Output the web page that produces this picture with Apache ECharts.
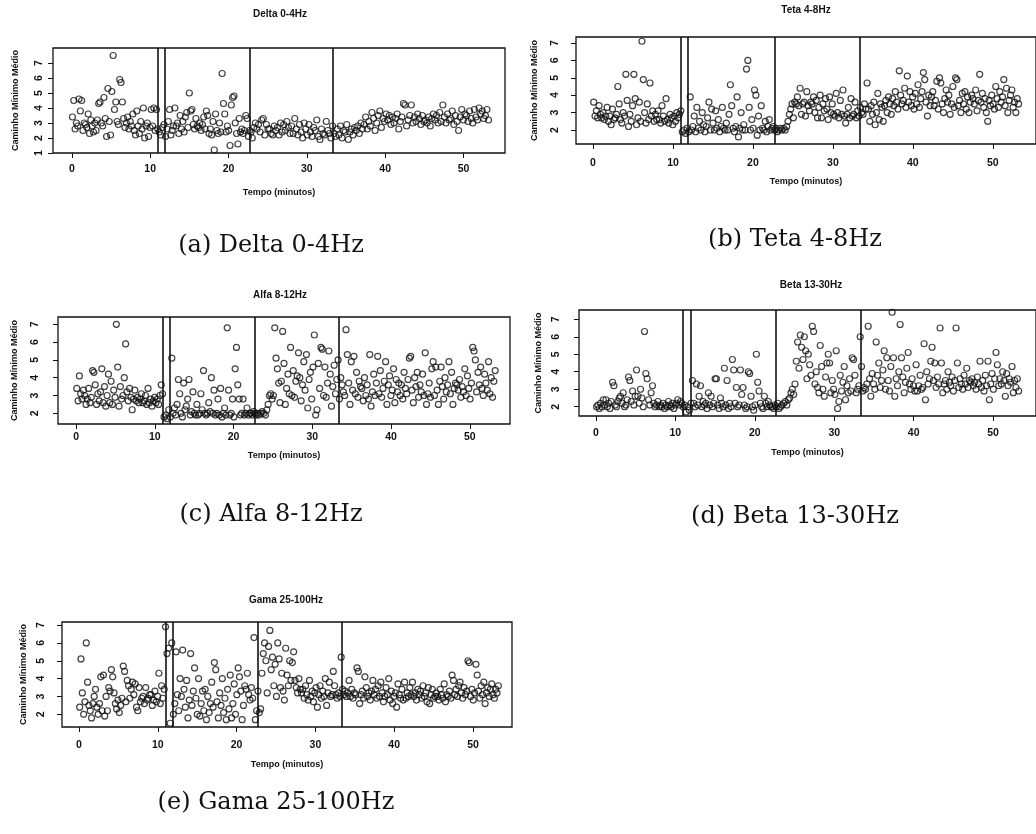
<!DOCTYPE html>
<html><head><meta charset="utf-8">
<script src="https://cdn.jsdelivr.net/npm/echarts@6/dist/echarts.min.js"></script>
<style>html,body{margin:0;padding:0;background:#fff}#c{width:1036px;height:834px}</style>
</head><body><div id="c"></div>
<script>
// ---------- data ----------
const panelTitles = ['Delta 0-4Hz', 'Teta 4-8Hz', 'Alfa 8-12Hz', 'Beta 13-30Hz', 'Gama 25-100Hz'];
const captions = ['(a) Delta 0-4Hz', '(b) Teta 4-8Hz', '(c) Alfa 8-12Hz', '(d) Beta 13-30Hz', '(e) Gama 25-100Hz'];
const xAxisName = 'Tempo (minutos)';
const yAxisName = 'Caminho Mínimo Médio';
const xTicks = [0, 10, 20, 30, 40, 50];
const yTicksDelta = [1, 2, 3, 4, 5, 6, 7];
const yTicksOther = [2, 3, 4, 5, 6, 7];
const boundaries = [10.95, 11.9, 22.7, 33.3];
const totalMinutes = 53.3;

// one row per minute (minute 0 .. 52), values in reading order
const delta = [
[3.4,4.5,2.6,3.0,2.8,4.6],[3.8,4.5,2.5,3.0,2.9,2.7],[3.6,2.3,3.2,2.8,2.4,3.0],[2.5,3.2,4.3,4.4,3.0,2.8],
[4.7,3.3,2.1,5.3,3.1,2.2],[5.1,7.5,3.9,4.4,3.1,2.9],[5.9,5.7,4.4,3.3,2.7,3.0],[3.4,2.6,3.1,2.8,3.6,2.5],
[2.2,3.8,2.8,2.3,3.1,2.6],[4.0,2.0,2.8,3.0,2.1,2.7],[3.9,2.8,4.0,2.5,3.9,2.6],[2.4,2.2,2.7,2.9,2.1],
[2.6,3.1,3.9,2.2,2.5,2.8],[4.0,2.8,3.0,2.3,3.5,2.6],[3.1,2.4,3.4,3.7,2.7,5.0],[3.8,3.9,2.9,2.6,3.3,2.8],
[2.7,3.0,2.5,2.9,3.4,2.6],[3.8,3.5,2.3,2.6,2.2,3.1],[1.2,3.6,2.5,2.3,3.0,2.4],[6.3,4.3,3.6,2.4,2.8,2.5],
[1.5,4.2,4.7,4.8,3.0,2.3],[1.6,3.3,2.4,2.6,2.3,2.5],[3.5,3.3,2.1,2.5,2.4,2.0],[2.7,3.0,2.6,2.9,2.4],
[3.2,3.3,2.2,2.9,2.6],[2.6,2.3,2.2,2.8,2.5],[2.7,2.2,3.0,2.4,2.9],[2.5,3.1,2.7,2.3,2.8],
[2.3,3.3,2.6,2.2,2.9],[2.4,2.0,3.0,2.6,2.2],[2.9,2.4,2.1,2.7,2.5],[3.2,2.1,1.9,2.6,2.3],
[2.2,3.1,2.5,2.3,2.0],[2.8,2.3,2.1,2.6,2.2],[2.8,2.0,2.5,2.4,2.9],[1.9,2.4,2.6,2.2,2.7],
[2.5,2.8,2.3,3.0,2.6],[2.9,3.4,2.6,3.1,2.8],[3.7,3.3,2.5,3.0,3.5],[3.8,2.7,3.3,3.1,3.6],
[3.2,3.5,2.9,3.4,3.0],[3.3,3.6,2.6,3.1,3.4],[4.3,4.2,2.8,3.2,3.5],[4.2,3.0,3.4,3.1,3.6],
[3.3,2.9,3.5,3.1,3.2],[3.0,3.4,2.8,3.3,3.6],[3.2,3.5,3.0,3.7,3.1],[4.2,3.4,3.0,3.6,3.2],
[3.3,3.8,2.9,3.5,3.1],[2.5,3.4,3.9,3.2,3.6],[3.5,3.1,3.8,3.3,3.0],[3.9,3.4,3.2,4.0,3.6],
[3.8,3.3,3.5,3.9,3.2]
];
const teta = [
[3.6,2.8,3.1,2.7,3.4,2.9],[2.7,3.0,2.6,2.8,3.3,2.5],[2.8,2.3,3.2,2.6,2.7,2.9],[4.5,3.5,2.6,2.4,3.0,2.8],
[5.2,3.7,2.2,2.9,2.5,3.4],[5.2,3.8,2.3,2.7,3.6,2.5],[7.1,4.9,3.0,2.4,3.5,2.6],[4.7,2.8,3.1,2.5,2.9,2.6],
[3.1,2.6,2.4,3.4,2.8,2.5],[3.8,2.6,2.4,2.9,2.7,2.3],[2.8,2.5,3.0,2.7,2.9,3.1],[1.9,2.0,1.8,2.1,1.9],
[3.9,2.0,2.2,2.8,1.9,3.3],[2.1,2.5,2.0,3.0,2.3,1.9],[2.2,2.7,3.6,2.0,3.2,2.4],[2.0,3.1,2.1,2.6,1.9,2.2],
[3.3,2.1,2.0,2.4,2.0,2.9],[4.6,3.4,2.1,1.9,2.2,3.9],[1.6,2.1,3.0,2.0,2.3,2.0],[5.5,6.0,3.3,2.0,2.6,2.1],
[4.3,4.0,1.7,2.8,2.0,3.4],[2.1,2.0,2.5,1.9,2.2,2.6],[2.0,2.1,2.2,2.0,2.1,1.9],[2.0,2.1,2.0,2.1,2.0],
[2.2,2.5,2.9,3.2,3.5,2.7],[3.6,3.5,3.9,3.4,4.4,2.9],[3.5,3.6,2.8,4.2,3.4,3.1],[3.6,3.5,3.9,3.0,3.7,2.7],
[3.3,4.0,2.7,3.5,3.1,3.8],[3.2,2.6,3.9,3.0,3.5,2.9],[2.8,4.1,3.0,2.7,3.7,2.9],[4.3,2.8,2.4,2.9,3.3,2.7],
[3.8,2.8,2.9,3.6,2.7,3.1],[2.8,3.3,3.0,2.9,3.5,3.2],[4.7,3.2,2.5,3.4,2.9,3.6],[2.3,3.0,4.1,2.6,3.5,3.3],
[2.5,3.4,3.7,3.0,3.9,3.5],[2.9,3.8,3.4,4.2,3.6,3.2],[5.4,4.0,3.5,3.7,4.4,3.3],[5.1,3.6,4.2,3.4,3.9,3.2],
[4.1,3.5,4.6,3.3,3.8,4.2],[5.3,4.9,3.6,2.8,4.0,3.4],[3.9,4.2,3.4,3.7,4.8,3.2],[5.0,4.7,3.5,3.0,3.8,4.3],
[3.6,4.0,2.9,3.5,4.5,3.3],[5.0,4.9,3.4,3.7,3.0,4.1],[3.5,4.2,3.2,3.9,3.0,3.6],[4.0,3.8,3.5,4.3,3.1,3.7],
[5.2,3.6,4.1,3.3,3.8,3.0],[2.5,3.7,3.4,4.0,3.5,3.2],[4.5,3.8,3.3,4.2,3.6,3.9],[4.9,3.4,4.4,3.0,3.7,4.0],
[4.3,3.3,3.6,3.0,3.8,3.5]
];
const alfa = [
[3.4,2.7,4.1,3.1,2.8,3.3],[3.0,2.5,2.8,3.4,2.6,2.9],[4.4,4.3,3.6,2.5,3.1,2.7],[3.2,4.5,2.6,3.5,2.4,3.0],
[4.2,2.6,3.8,2.5,3.3,2.9],[7.0,4.6,2.4,3.5,2.8,3.0],[4.0,5.9,3.2,2.7,3.4,2.9],[2.2,2.8,3.3,2.7,2.9,2.6],
[2.8,3.1,2.6,2.7,3.0,2.5],[3.4,2.6,2.8,2.4,2.7,2.9],[2.6,2.8,2.5,3.0,3.6,3.1],[1.8,1.9,1.7,2.2,1.8],
[5.1,2.0,2.3,1.9,2.5,3.9],[3.1,2.0,1.8,3.7,2.2,2.4],[2.8,3.9,1.9,2.1,3.2,2.0],[1.9,2.5,1.9,2.0,3.1,2.2],
[4.4,2.0,1.9,2.0,2.6,2.1],[4.0,2.0,3.3,1.9,2.0,2.8],[1.9,3.4,1.8,2.0,2.3,1.9],[6.8,3.3,1.9,2.0,2.8,1.8],
[4.5,5.7,3.6,2.8,1.9,2.0],[2.8,1.9,2.0,2.3,1.9,2.0],[2.0,1.9,2.1,2.0,1.9,2.0],[1.9,2.0,2.1,2.0,1.9],
[2.2,2.5,3.0,3.1,2.8,3.0],[6.8,5.1,4.5,3.7,2.6,3.8],[6.6,4.8,2.5,3.4,4.2,3.1],[5.7,3.0,4.4,2.9,3.8,4.1],
[5.4,4.0,2.7,3.6,4.9,3.3],[5.3,2.3,3.9,4.3,2.8,4.6],[6.4,1.9,2.2,4.8,3.4,5.7],[5.6,3.0,4.6,2.9,3.7,5.5],
[4.2,2.4,3.5,4.7,3.1,3.9],[5.0,2.8,4.0,3.6,3.2,3.0],[6.7,5.3,3.7,2.5,4.9,3.3],[5.2,3.1,4.3,2.9,3.8,3.5],
[3.4,2.7,4.0,3.0,3.6,2.8],[5.3,2.4,3.2,4.2,3.0,3.7],[5.2,3.1,4.4,2.9,3.4,3.8],[4.9,2.5,3.6,4.1,3.0,3.3],
[4.5,2.6,3.9,3.2,3.7,3.0],[3.6,2.8,4.3,3.4,3.1,3.9],[5.1,5.2,3.3,2.6,4.0,3.5],[4.3,2.9,3.6,3.2,4.2,3.0],
[5.4,2.5,3.1,3.7,2.9,4.5],[4.9,3.0,4.6,3.3,2.5,3.8],[4.6,3.5,2.8,4.0,3.2,3.6],[4.9,3.1,4.3,2.5,3.4,3.7],
[3.6,3.3,3.9,2.9,3.5,3.2],[4.5,3.0,4.1,3.4,2.8,3.7],[5.7,5.5,5.0,3.2,4.3,3.6],[4.6,3.4,3.0,4.2,3.7,3.3],
[4.9,3.1,4.0,2.9,3.8,4.4]
];
const beta = [
[2.0,2.1,1.9,2.2,2.0,2.4],[2.1,2.4,2.0,2.2,1.9,2.3],[3.4,3.2,2.1,2.0,2.3,2.5],[2.6,2.2,2.8,2.0,2.1,2.4],
[3.7,3.5,2.3,2.9,2.1,2.6],[4.1,2.6,2.2,3.0,2.5,2.0],[6.3,3.9,3.6,2.4,2.1,2.8],[3.2,2.2,2.0,2.1,2.3,2.0],
[2.1,2.0,2.2,1.9,2.1,2.0],[2.3,2.1,2.0,2.2,1.9,2.1],[2.2,2.4,2.1,2.3,2.2,2.0],[2.1,1.7,2.0,1.8,2.2],
[3.5,2.2,2.0,3.3,2.1,2.6],[3.2,2.0,2.3,2.1,2.2,1.9],[2.8,2.1,2.6,2.0,2.2,3.6],[3.6,2.1,1.9,2.5,2.2,2.0],
[4.2,2.1,3.5,1.9,2.2,2.0],[4.7,4.1,2.2,3.1,2.0,2.1],[4.1,2.7,3.1,2.1,1.9,2.0],[4.0,3.9,2.6,2.0,1.8,2.1],
[5.0,3.4,2.9,2.2,2.0,1.9],[2.6,2.2,2.0,2.3,2.1,2.0],[2.0,1.9,2.1,2.0,2.2,1.9],[2.0,2.1,2.2,2.3,2.1],
[2.4,2.5,2.8,3.0,2.7,3.3],[4.6,5.7,4.2,6.1,5.4,4.7],[6.0,5.2,3.6,5.0,4.4,3.8],[6.6,6.3,3.3,4.0,3.1,2.8],
[5.5,4.3,3.0,2.6,3.7,4.5],[5.0,4.5,2.8,3.5,3.0,2.7],[5.2,1.9,2.3,3.8,2.9,3.4],[4.3,2.4,3.2,2.8,3.6,2.9],
[4.8,4.7,3.8,2.8,3.0,3.2],[6.0,4.3,2.9,3.1,3.0,3.3],[6.6,3.6,2.6,3.9,3.3,3.0],[5.7,3.8,4.5,3.1,3.5,4.1],
[5.2,3.0,4.8,3.5,2.9,4.3],[7.4,4.8,2.6,3.6,3.2,4.0],[6.7,4.8,3.7,2.8,3.4,4.2],[5.1,3.3,3.0,3.6,3.2,2.9],
[4.4,2.9,3.2,3.8,3.0,3.1],[5.6,2.4,4.0,3.3,3.6,4.6],[5.4,3.5,4.5,3.1,3.7,3.3],[6.5,4.5,2.8,3.3,3.5,3.0],
[4.0,3.4,3.2,3.7,2.9,3.5],[6.5,4.5,3.1,3.6,3.3,3.0],[3.8,3.3,4.2,3.1,3.5,3.4],[3.6,3.2,3.4,3.0,3.7,3.3],
[4.6,3.1,3.5,2.9,3.8,3.2],[4.6,2.4,3.3,3.9,3.0,3.6],[5.1,4.4,3.2,3.6,3.3,4.0],[3.5,2.6,3.9,3.2,3.6,3.4],
[4.3,2.8,3.5,3.1,3.6,2.9]
];
const gama = [
[2.4,5.1,3.2,2.0,2.7,6.0],[3.8,2.5,2.2,1.8,2.6,3.0],[3.4,2.4,2.0,2.6,4.1,2.2],[4.2,1.9,3.0,2.2,3.5,3.3],
[4.5,4.1,3.2,2.6,2.3,2.8],[2.1,2.5,2.9,4.7,4.4,2.7],[3.9,3.6,2.9,3.4,3.8,3.1],[3.7,2.4,2.2,3.5,2.7,2.9],
[3.0,2.6,3.5,2.8,2.9,3.1],[3.1,2.5,2.8,3.3,2.7,3.0],[4.3,2.6,3.6,2.9,3.4,6.9],[5.4,5.7,1.5,6.0,2.0],
[2.6,5.5,3.1,2.2,4.0,3.0],[5.6,3.4,2.4,3.9,1.8,2.8],[5.4,2.5,3.3,4.6,2.9,2.0],[4.0,1.9,2.6,3.3,2.2,3.4],
[1.7,3.0,2.1,2.6,3.8,2.4],[4.9,4.5,2.7,1.8,3.2,2.5],[4.0,2.1,2.9,1.7,3.4,2.3],[4.2,1.8,2.6,3.7,2.0,3.1],
[4.6,4.1,3.3,1.7,2.5,3.6],[3.4,4.3,3.1,2.8,3.5,2.9],[6.3,1.7,2.2,3.3,2.1,2.3],[4.3,5.4,6.0,5.0,3.2,5.8],
[6.7,4.5,5.2,3.6,4.8,3.0],[6.0,5.1,3.5,4.3,3.3,2.8],[5.7,4.2,3.6,5.0,3.9,4.9],[5.5,3.9,3.5,3.2,4.0,3.4],
[3.2,3.4,2.9,3.6,3.1,2.8],[3.9,3.0,3.3,2.7,3.2,3.5],[2.4,3.1,3.6,2.9,3.3,3.0],[4.0,2.5,3.2,3.8,3.0,3.1],
[4.4,3.6,3.1,2.9,3.2,3.0],[5.2,3.4,3.1,3.3,3.0,3.2],[3.9,3.0,3.4,2.9,3.2,3.1],[4.6,4.4,2.6,3.1,3.3,2.9],
[4.1,3.5,3.0,3.2,2.8,3.3],[3.9,3.1,3.4,2.9,3.6,3.0],[3.8,3.2,2.7,3.0,3.5,3.1],[4.0,2.8,3.3,2.6,3.0,3.2],
[2.4,3.7,3.1,2.9,3.4,2.8],[3.8,2.9,3.2,3.0,3.5,3.1],[3.8,3.0,3.2,2.8,3.4,3.1],[3.3,2.9,3.6,3.0,3.2,2.7],
[3.5,2.6,3.1,3.4,2.9,3.0],[3.2,3.0,2.8,3.4,3.1,2.9],[3.7,2.7,3.1,3.0,3.3,2.9],[4.2,3.9,3.1,3.4,3.0,3.6],
[3.8,3.2,2.9,3.5,3.1,3.3],[5.0,4.9,3.0,3.4,2.8,3.2],[4.8,4.2,3.3,2.9,3.6,3.1],[3.8,2.6,3.2,3.5,3.0,3.4],
[3.7,3.1,2.9,3.4,3.2,3.6]
];
const seriesData = [delta, teta, alfa, beta, gama];
const yTickSets = [yTicksDelta, yTicksOther, yTicksOther, yTicksOther, yTicksOther];

// ---------- layout ----------
const layouts = [
 {left:53,  top:48,  width:452, height:105, xMin:-2.4,  xMax:55.3,  yMin:1.0,  yMax:8.0,  lblX:11, lblY:8,  nameX:35, nameY:33,   tX:280, tY:14,  cX:271, cY:246},
 {left:576, top:37,  width:462, height:107, xMin:-2.13, xMax:55.4,  yMin:1.195,yMax:7.345,lblX:14, lblY:15, nameX:33, nameY:36.5, tX:806, tY:10,  cX:795, cY:240},
 {left:58,  top:317, width:452, height:107, xMin:-2.3,  xMax:55.1,  yMin:1.4,  yMax:7.41, lblX:8,  lblY:17, nameX:27, nameY:38.5, tX:280, tY:295, cX:271, cY:515},
 {left:579, top:310, width:468, height:106, xMin:-2.13, xMax:55.4,  yMin:1.47, yMax:7.53, lblX:12, lblY:17, nameX:32, nameY:36,   tX:811, tY:285, cX:795, cY:517},
 {left:62,  top:622, width:450, height:105, xMin:-2.16, xMax:54.95, yMin:1.29, yMax:7.17, lblX:13, lblY:15, nameX:33, nameY:34,   tX:286, tY:600, cX:276, cY:803}
];

function toPoints(rows) {
  const rowW = totalMinutes / rows.length;
  const pts = [];
  rows.forEach((r, k) => r.forEach((v, j) => pts.push([(k + (j + 0.5) / r.length) * rowW, v])));
  return pts;
}

const SANS = '"Liberation Sans", Arial, sans-serif';
const grids = [], xAxes = [], yAxes = [], series = [], graphics = [];
layouts.forEach((L, i) => {
  grids.push({left:L.left, top:L.top, width:L.width, height:L.height, show:true,
    borderColor:'#111', borderWidth:1.3, backgroundColor:'transparent', containLabel:false});
  xAxes.push({type:'value', gridIndex:i, min:L.xMin, max:L.xMax, position:'bottom',
    name:xAxisName, nameLocation:'middle', nameGap:L.nameX,
    nameTextStyle:{fontFamily:SANS, fontWeight:'bold', fontSize:9, color:'#111'},
    axisLine:{show:false, onZero:false}, splitLine:{show:false},
    axisTick:{show:true, inside:false, length:5, customValues:xTicks, lineStyle:{color:'#111', width:1}},
    axisLabel:{show:true, customValues:xTicks, margin:L.lblX, fontFamily:SANS, fontWeight:'bold', fontSize:10.5, color:'#111'}});
  yAxes.push({type:'value', gridIndex:i, min:L.yMin, max:L.yMax, position:'left',
    name:yAxisName, nameLocation:'middle', nameGap:L.nameY,
    nameTextStyle:{fontFamily:SANS, fontWeight:'bold', fontSize:9, color:'#111'},
    axisLine:{show:false, onZero:false}, splitLine:{show:false},
    axisTick:{show:true, inside:false, length:5, customValues:yTickSets[i], lineStyle:{color:'#111', width:1}},
    axisLabel:{show:true, customValues:yTickSets[i], rotate:90, margin:L.lblY, fontFamily:SANS, fontWeight:'bold', fontSize:10.5, color:'#111'}});
  series.push({type:'scatter', xAxisIndex:i, yAxisIndex:i, data:toPoints(seriesData[i]),
    symbol:'circle', symbolSize:6, silent:true,
    itemStyle:{color:'rgba(0,0,0,0)', borderColor:'#111', borderWidth:1.2},
    emphasis:{disabled:true},
    markLine:{silent:true, symbol:['none','none'], label:{show:false},
      lineStyle:{color:'#111', width:1.6, type:'solid'},
      data: boundaries.map(b => ({xAxis:b}))}});
  graphics.push({type:'text', x:L.tX, y:L.tY, style:{text:panelTitles[i], font:'bold 10px ' + SANS, fill:'#111', align:'center', verticalAlign:'middle'}});
  graphics.push({type:'text', x:L.cX, y:L.cY, style:{text:captions[i], font:'24px "DejaVu Serif", serif', fill:'#111', align:'center', verticalAlign:'middle'}});
});

const chart = echarts.init(document.getElementById('c'), null, {renderer:'canvas'});
chart.setOption({
  animation:false, backgroundColor:'#fff',
  grid:grids, xAxis:xAxes, yAxis:yAxes, series:series, graphic:graphics
});
</script></body></html>
